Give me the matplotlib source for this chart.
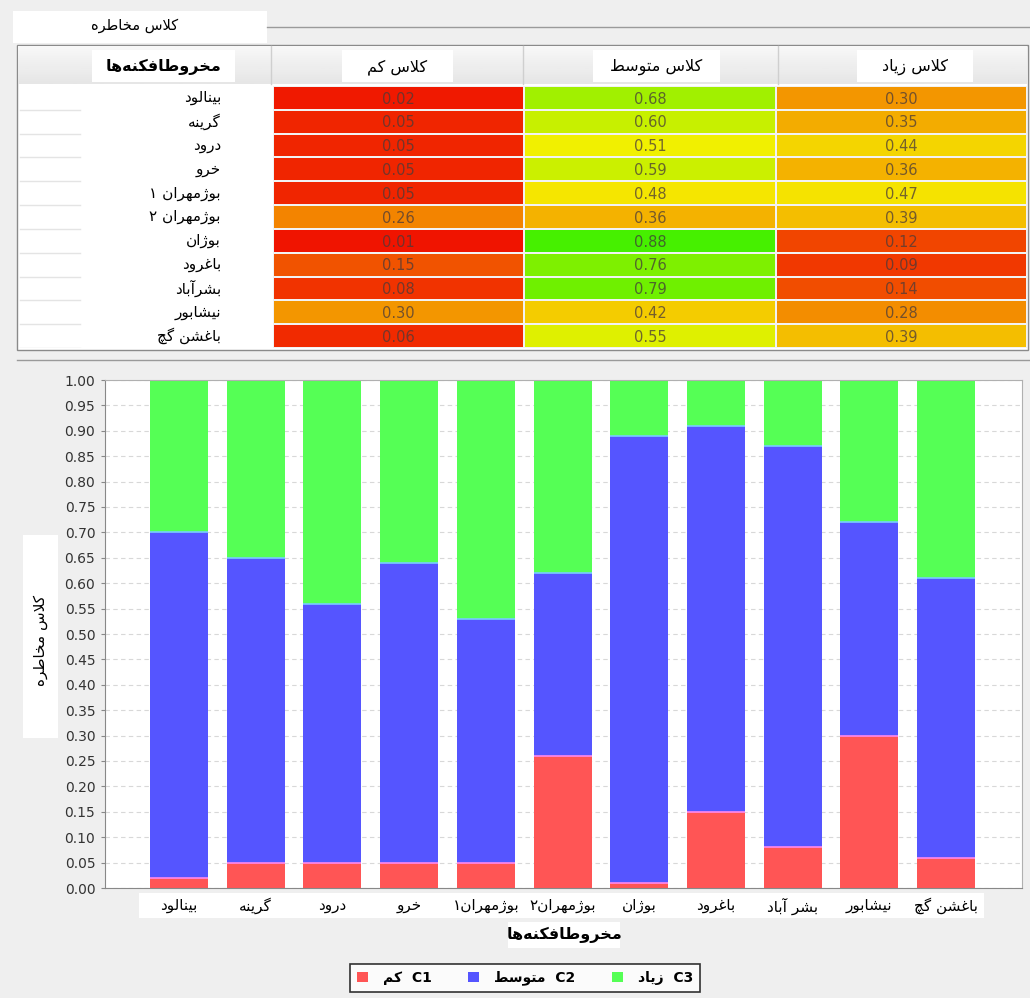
import numpy as np
import matplotlib
matplotlib.use("Agg")
import matplotlib.pyplot as plt
from matplotlib.colors import LinearSegmentedColormap
from matplotlib.patches import Rectangle

W, H = 1030, 998

# ---- data ----
cones = ["بینالود", "گرینه", "درود", "خرو", "بوژمهران ۱", "بوژمهران ۲",
         "بوژان", "باغرود", "بشرآباد", "نیشابور", "باغشن گچ"]
bar_labels = ["بینالود", "گرینه", "درود", "خرو", "بوژمهران۱", "بوژمهران۲",
              "بوژان", "باغرود", "بشر آباد", "نیشابور", "باغشن گچ"]
low = [0.02, 0.05, 0.05, 0.05, 0.05, 0.26, 0.01, 0.15, 0.08, 0.30, 0.06]
medium = [0.68, 0.60, 0.51, 0.59, 0.48, 0.36, 0.88, 0.76, 0.79, 0.42, 0.55]
high = [0.30, 0.35, 0.44, 0.36, 0.47, 0.39, 0.12, 0.09, 0.14, 0.28, 0.39]
table_columns = ["مخروطافکنه‌ها", "کلاس کم", "کلاس متوسط", "کلاس زیاد"]
tab_title = "کلاس مخاطره"
series_names = ["کم", "متوسط", "زیاد"]
series_codes = ["C1", "C2", "C3"]
y_ticks = [i / 20 for i in range(21)]

# ---- simple persian shaping (matplotlib has no bidi / joining) ----
FORMS = {
    'ا': ('\uFE8D', '\uFE8E', None, None),
    'آ': ('\uFE81', '\uFE82', None, None),
    'ب': ('\uFE8F', '\uFE90', '\uFE91', '\uFE92'),
    'پ': ('\uFB56', '\uFB57', '\uFB58', '\uFB59'),
    'ت': ('\uFE95', '\uFE96', '\uFE97', '\uFE98'),
    'ج': ('\uFE9D', '\uFE9E', '\uFE9F', '\uFEA0'),
    'چ': ('\uFB7A', '\uFB7B', '\uFB7C', '\uFB7D'),
    'خ': ('\uFEA5', '\uFEA6', '\uFEA7', '\uFEA8'),
    'د': ('\uFEA9', '\uFEAA', None, None),
    'ر': ('\uFEAD', '\uFEAE', None, None),
    'ز': ('\uFEAF', '\uFEB0', None, None),
    'ژ': ('\uFB8A', '\uFB8B', None, None),
    'س': ('\uFEB1', '\uFEB2', '\uFEB3', '\uFEB4'),
    'ش': ('\uFEB5', '\uFEB6', '\uFEB7', '\uFEB8'),
    'ط': ('\uFEC1', '\uFEC2', '\uFEC3', '\uFEC4'),
    'غ': ('\uFECD', '\uFECE', '\uFECF', '\uFED0'),
    'ف': ('\uFED1', '\uFED2', '\uFED3', '\uFED4'),
    'ک': ('\uFB8E', '\uFB8F', '\uFB90', '\uFB91'),
    'گ': ('\uFB92', '\uFB93', '\uFB94', '\uFB95'),
    'ل': ('\uFEDD', '\uFEDE', '\uFEDF', '\uFEE0'),
    'م': ('\uFEE1', '\uFEE2', '\uFEE3', '\uFEE4'),
    'ن': ('\uFEE5', '\uFEE6', '\uFEE7', '\uFEE8'),
    'و': ('\uFEED', '\uFEEE', None, None),
    'ه': ('\uFEE9', '\uFEEA', '\uFEEB', '\uFEEC'),
    'ی': ('\uFBFC', '\uFBFD', '\uFBFE', '\uFBFF'),
}
LAM_ALEF = {'ا': ('\uFEFB', '\uFEFC'), 'آ': ('\uFEF5', '\uFEF6')}


def joins_next(c):
    return c in FORMS and FORMS[c][2] is not None


def rtl(text):
    out = []
    i = 0
    n = len(text)
    while i < n:
        c = text[i]
        if c == '\u200c':
            i += 1
            continue
        if c not in FORMS:
            out.append(c)
            i += 1
            continue
        prev = text[i - 1] if i > 0 else ''
        links_prev = joins_next(prev)
        if c == 'ل' and i + 1 < n and text[i + 1] in LAM_ALEF:
            lig = LAM_ALEF[text[i + 1]]
            out.append(lig[1] if links_prev else lig[0])
            i += 2
            continue
        nxt = text[i + 1] if i + 1 < n else ''
        links_next = joins_next(c) and nxt in FORMS
        iso, fin, ini, med = FORMS[c]
        if links_prev and links_next:
            out.append(med)
        elif links_prev:
            out.append(fin)
        elif links_next:
            out.append(ini)
        else:
            out.append(iso)
        i += 1
    return ''.join(reversed(out))


def px_rect(x0, y0, x1, y1):
    return [x0 / W, 1 - y1 / H, (x1 - x0) / W, (y1 - y0) / H]


def text_color(rgba):
    r, g, b = rgba[:3]
    return (0.3 * r + 0.17, 0.25 * g + 0.17, 0.3 * b + 0.17)


def draw_frame(bg):
    # tab
    bg.add_patch(Rectangle((13, 11), 254, 32, facecolor='white', edgecolor='none'))
    bg.text(135, 25, rtl(tab_title), ha='center', va='center', fontsize=10.5)
    bg.plot([267, 1030], [27, 27], color='#9a9a9a', lw=1)
    # table border + header
    bg.add_patch(Rectangle((17, 45), 1011, 305, facecolor='white', edgecolor='#8a8a8a', lw=1))
    grad = np.linspace(0.97, 0.9, 20).reshape(-1, 1)
    bg.imshow(grad, cmap='gray', vmin=0, vmax=1, extent=(18, 1027, 84, 46),
              aspect='auto', zorder=1)
    for xs in [271, 523, 778]:
        bg.plot([xs, xs], [46, 84], color='#cfcfcf', lw=1, zorder=2)
    boxes = [(92, 235), (342, 453), (593, 720), (857, 973)]
    for k, (a, b) in enumerate(boxes):
        bg.add_patch(Rectangle((a, 50), b - a, 32, facecolor='white', edgecolor='none', zorder=2))
        bg.text((a + b) / 2, 67, rtl(table_columns[k]), ha='center', va='center',
                fontsize=11.5, fontweight='bold' if k == 0 else 'normal', zorder=3)
    # separator line
    bg.plot([17, 1030], [360, 360], color='#9a9a9a', lw=1)
    # white label boxes around the chart
    bg.add_patch(Rectangle((23, 535), 35, 203, facecolor='white', edgecolor='none'))
    bg.add_patch(Rectangle((139, 893), 845, 25, facecolor='white', edgecolor='none'))
    bg.add_patch(Rectangle((508, 922), 112, 26, facecolor='white', edgecolor='none'))
    bg.text(40, 640, rtl(tab_title), rotation=90, ha='center', va='center', fontsize=11)
    bg.text(564, 935, rtl(table_columns[0]), ha='center', va='center',
            fontsize=11.5, fontweight='bold')


def draw_table(fig, cmap):
    n = len(cones)
    names_ax = fig.add_axes(px_rect(18, 86, 271, 348))
    names_ax.set_xlim(18, 271)
    names_ax.set_ylim(n, 0)
    names_ax.axis('off')
    for i, name in enumerate(cones):
        names_ax.plot([20, 80], [i + 1, i + 1], color='#e4e4e4', lw=1)
        names_ax.text(221, i + 0.5, rtl(name), ha='right', va='center', fontsize=11)

    heat_ax = fig.add_axes(px_rect(273, 86, 1027, 348))
    values = np.array([low, medium, high]).T
    heat_ax.pcolormesh(values, cmap=cmap, vmin=0, vmax=1,
                       edgecolors='#f2f2f2', linewidth=1.2)
    heat_ax.set_xlim(0, 3)
    heat_ax.set_ylim(n, 0)
    heat_ax.axis('off')
    for i in range(n):
        for j in range(3):
            v = values[i, j]
            heat_ax.text(j + 0.5, i + 0.55, f"{v:.2f}", ha='center', va='center',
                         fontsize=10.5, color=text_color(cmap(v)))


def draw_chart(fig):
    ax = fig.add_axes(px_rect(105, 380, 1022, 888))
    x = np.arange(len(bar_labels))
    width = 0.756
    colors = ['#ff5555', '#5555ff', '#55ff55']
    tops = ['#ff88ee', '#77ccff', None]
    bottom = np.zeros(len(x))
    handles = []
    for k, series in enumerate([low, medium, high]):
        vals = np.array(series)
        h = ax.bar(x, vals, width, bottom=bottom, color=colors[k], zorder=2)
        handles.append(h)
        if tops[k]:
            ax.hlines(bottom + vals, x - width / 2, x + width / 2, colors=tops[k], lw=1.2, zorder=3)
        bottom = bottom + vals
    ax.set_xlim(-0.965, 10.99)
    ax.set_ylim(0, 1)
    ax.set_yticks(y_ticks)
    ax.set_yticklabels([f"{t:.2f}" for t in y_ticks], fontsize=10, color='#333333')
    ax.set_xticks(x)
    ax.set_xticklabels([rtl(b) for b in bar_labels], fontsize=11)
    ax.tick_params(axis='x', length=0, pad=7)
    ax.tick_params(axis='y', length=3, color='#888888', pad=4)
    ax.grid(axis='y', color='#d8d8d8', linestyle=(0, (4, 3)), lw=0.8, zorder=0)
    ax.set_axisbelow(True)
    for s in ax.spines.values():
        s.set_color('#b0b0b0')
    ax.spines['left'].set_color('#888888')
    ax.spines['bottom'].set_color('#888888')

    labels = [rtl(n) + '  ' + c for n, c in zip(series_names, series_codes)]
    leg = fig.legend(handles, labels, loc='center', bbox_to_anchor=(525 / W, 1 - 978 / H),
                     ncol=3, frameon=True, fancybox=False, edgecolor='black',
                     handlelength=0.8, handleheight=0.8, columnspacing=2.6,
                     handletextpad=1.1, borderpad=0.45,
                     prop={'size': 10, 'weight': 'bold'})
    leg.get_frame().set_linewidth(1.2)


def main():
    plt.rcParams['font.family'] = ['DejaVu Sans']
    fig = plt.figure(figsize=(W / 100, H / 100), dpi=100)
    fig.patch.set_facecolor('#efefef')

    bg = fig.add_axes([0, 0, 1, 1], zorder=0)
    bg.set_xlim(0, W)
    bg.set_ylim(H, 0)
    bg.axis('off')
    draw_frame(bg)

    cmap = LinearSegmentedColormap.from_list('risk', ['#f01000', '#f5f000', '#10f000'])
    draw_table(fig, cmap)
    draw_chart(fig)

    fig.savefig('out.png', dpi=100, facecolor=fig.get_facecolor())


if __name__ == "__main__":
    main()
